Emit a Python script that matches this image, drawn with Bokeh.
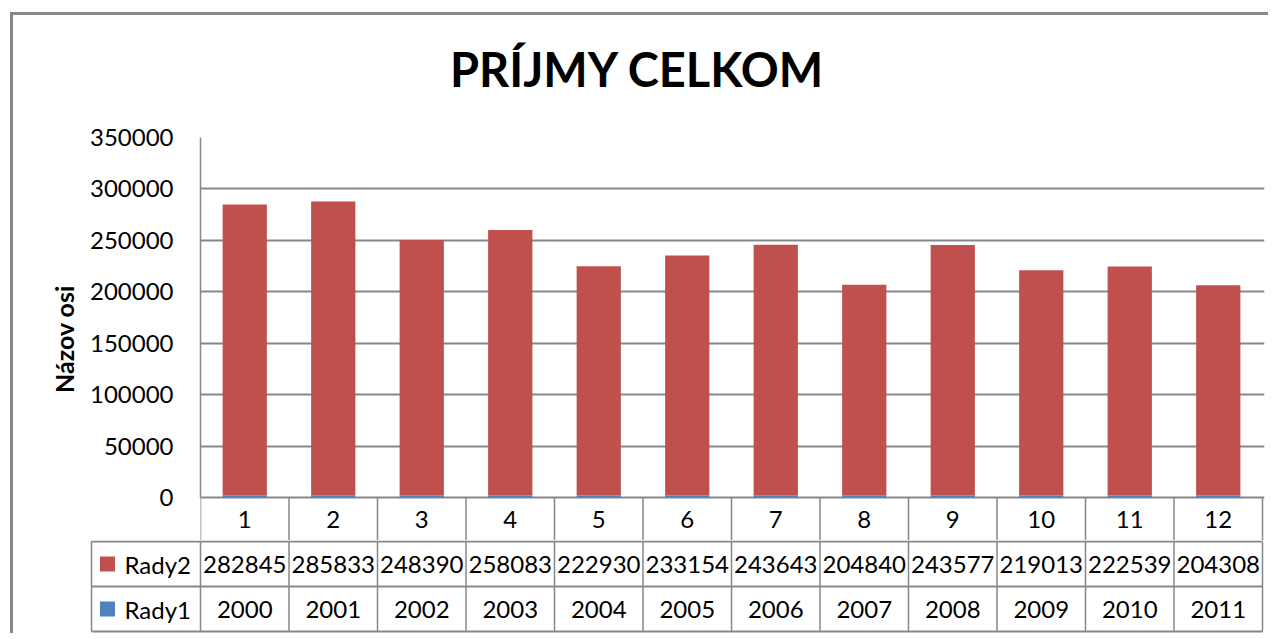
from bokeh.plotting import figure
from bokeh.models import Range1d, FixedTicker, NumeralTickFormatter, ColumnDataSource
from bokeh.core.properties import value
from bokeh.embed import file_html
from bokeh.resources import INLINE

# ---- data ----
cats = ["1", "2", "3", "4", "5", "6", "7", "8", "9", "10", "11", "12"]
rady1 = [2000, 2001, 2002, 2003, 2004, 2005, 2006, 2007, 2008, 2009, 2010, 2011]
rady2 = [282845, 285833, 248390, 258083, 222930, 233154, 243643, 204840, 243577, 219013, 222539, 204308]
series = ["Rady1", "Rady2"]
y_ticks = [0, 50000, 100000, 150000, 200000, 250000, 300000, 350000]
title_text = "PRÍJMY CELKOM"
axis_title = "Názov osi"

RED = "#C0504D"
BLUE = "#4F81BD"
GRID = "#878787"
FONT = "Lato"

W = 1258
CAT_PX = 88.5
n = len(cats)
Y_MAX = y_ticks[-1]
PX_PER_Y = 360.0 / Y_MAX          # plot area is 360 px tall
ROW1_PX = 43                      # category row kept inside the chart canvas

# ---- title strip ----
HT = 110                          # includes the 3px top border
HT_IN = HT - 3
pT = figure(x_range=Range1d(0, W), y_range=Range1d(0, HT_IN), width=W, height=HT,
            output_backend="svg", toolbar_location=None,
            x_axis_location=None, y_axis_location=None,
            min_border_left=0, min_border_right=0, min_border_top=0, min_border_bottom=0)
pT.xgrid.visible = False
pT.ygrid.visible = False
pT.outline_line_color = None
pT.text(x=[624], y=[HT_IN - 52], text=[title_text], text_font=value(FONT),
        text_font_size="47px", text_font_style="bold", text_color="black",
        text_align="center", text_baseline="middle")
pT.styles = {"border-left": "3px solid #878787", "border-top": "3px solid #878787",
             "margin-left": "10px", "margin-top": "12px"}

# ---- chart (with the category row of the table) ----
xc = [i + 0.5 for i in range(n)]
src = ColumnDataSource(dict(x=xc, cat=cats, Rady1=rady1, Rady2=rady2))
x_end = n + 2 / CAT_PX
y_start = -ROW1_PX / PX_PER_Y
pA = figure(x_range=Range1d(0, x_end), y_range=Range1d(y_start, Y_MAX),
            width=W, height=418, output_backend="svg", toolbar_location=None,
            x_axis_location=None, min_border_left=187,
            min_border_right=W - 187 - int(round(x_end * CAT_PX)),
            min_border_top=15, min_border_bottom=0)
pA.vbar_stack(series, x="x", width=0.5, fill_color=[BLUE, RED],
              line_color=None, source=src)

ax = pA.yaxis[0]
ax.ticker = FixedTicker(ticks=y_ticks)
ax.bounds = (0, Y_MAX)
ax.formatter = NumeralTickFormatter(format="0")
ax.major_label_text_font = FONT
ax.major_label_text_font_size = "24px"
ax.major_label_text_color = "black"
ax.major_tick_line_color = None
ax.minor_tick_line_color = None
ax.axis_line_color = GRID
ax.axis_line_width = 1.5
ax.major_label_standoff = 21
ax.axis_label = axis_title
ax.axis_label_text_font = FONT
ax.axis_label_text_font_style = "bold"
ax.axis_label_text_font_size = "25px"
ax.axis_label_text_color = "black"
ax.axis_label_standoff = 8

pA.ygrid.ticker = FixedTicker(ticks=y_ticks)
pA.ygrid.grid_line_color = GRID
pA.ygrid.grid_line_width = 2
pA.xgrid.visible = False
pA.outline_line_color = None
pA.styles = {"border-left": "3px solid #878787", "margin-left": "10px"}

# category row: separators and labels
bx = list(range(n + 1))
pA.segment(x0=bx, y0=[0] * (n + 1), x1=bx, y1=[y_start] * (n + 1),
           line_color=GRID, line_width=1.5)
pA.text(x="x", y=y_start / 2, text="cat", source=src,
        text_font=value(FONT), text_font_size="24px", text_color="black",
        text_align="center", text_baseline="middle")

# ---- remaining data table rows ----
left_edge = -(200 - 91) / CAT_PX
row_h = 45.0
x0 = -(200 - 89) / CAT_PX
frame_w = int(round((x_end - x0) * CAT_PX))
pB = figure(x_range=Range1d(x0, x_end), y_range=Range1d(-2 / row_h, 2 + 1 / row_h),
            width=W, height=93, output_backend="svg", toolbar_location=None,
            x_axis_location=None, y_axis_location=None,
            min_border_left=76, min_border_right=W - 76 - frame_w,
            min_border_top=0, min_border_bottom=0)
pB.xgrid.visible = False
pB.ygrid.visible = False
pB.outline_line_color = None
pB.styles = {"border-left": "3px solid #878787", "margin-left": "10px"}

vx = list(range(n + 1)) + [left_edge]
pB.segment(x0=vx, y0=[0] * (n + 2), x1=vx, y1=[2] * (n + 2),
           line_color=GRID, line_width=1.5)
hy = [2, 1, 0]
pB.segment(x0=[left_edge] * 3, y0=hy, x1=[n] * 3, y1=hy, line_color=GRID, line_width=2)

tsrc = ColumnDataSource(dict(x=xc, r2=[str(v) for v in rady2], r1=[str(v) for v in rady1]))
common = dict(text_font=value(FONT), text_font_size="24px", text_color="black",
              text_align="center", text_baseline="middle", source=tsrc)
pB.text(x="x", y=1.5, text="r2", **common)
pB.text(x="x", y=0.5, text="r1", **common)

# legend keys in the table
mk_x = left_edge + 16 / CAT_PX
lab_x = left_edge + 33 / CAT_PX
pB.scatter(x=[mk_x, mk_x], y=[1.5, 0.5], marker="square", size=15,
           fill_color=[RED, BLUE], line_color=None)
pB.text(x=[lab_x, lab_x], y=[1.5, 0.5], text=["Rady2", "Rady1"],
        text_font=value(FONT), text_font_size="24px", text_color="black",
        text_align="left", text_baseline="middle")

open("out.html", "w").write(file_html([pT, pA, pB], INLINE, title="PRÍJMY CELKOM"))
